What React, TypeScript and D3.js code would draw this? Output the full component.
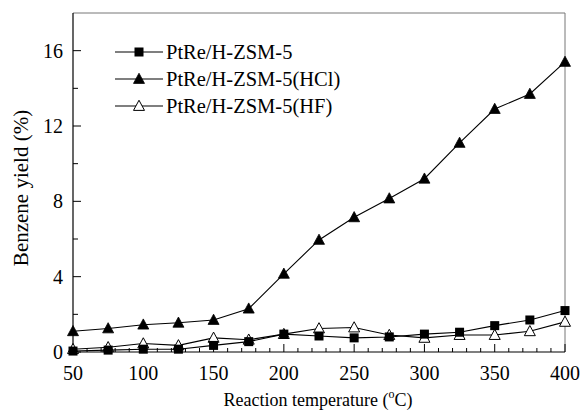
import React from "react";
import * as d3 from "d3";

const temps = [50, 75, 100, 125, 150, 175, 200, 225, 250, 275, 300, 325, 350, 375, 400];
const seriesBase = [0.05, 0.1, 0.15, 0.15, 0.35, 0.55, 0.95, 0.85, 0.75, 0.8, 0.95, 1.05, 1.4, 1.7, 2.2];
const seriesHCl = [1.1, 1.25, 1.45, 1.55, 1.7, 2.3, 4.15, 5.95, 7.15, 8.15, 9.2, 11.1, 12.9, 13.7, 15.4];
const seriesHF = [0.15, 0.25, 0.45, 0.35, 0.75, 0.65, 0.95, 1.25, 1.3, 0.9, 0.75, 0.9, 0.9, 1.1, 1.6];
const seriesNames = ["PtRe/H-ZSM-5", "PtRe/H-ZSM-5(HCl)", "PtRe/H-ZSM-5(HF)"];
const xTicks = [50, 100, 150, 200, 250, 300, 350, 400];
const yTicks = [0, 4, 8, 12, 16];
const yMinor = [2, 6, 10, 14];

const W = 583, H = 415;
const L = 73, R = 565, T = 13, B = 352;
const FONT = "Liberation Serif, Times New Roman, serif";

function Marker({ kind, x, y }: { kind: string; x: number; y: number }) {
  if (kind === "square") {
    return <rect x={x - 4.5} y={y - 4.5} width={9} height={9} fill="#000" />;
  }
  const s = 5.5;
  const pts = `${x},${y - s * 1.05} ${x + s},${y + s * 0.8} ${x - s},${y + s * 0.8}`;
  if (kind === "tri") return <polygon points={pts} fill="#000" stroke="#000" strokeWidth={0.8} />;
  return <polygon points={pts} fill="#fff" stroke="#000" strokeWidth={1} />;
}

export default function App() {
  const x = d3.scaleLinear().domain([50, 400]).range([L, R]);
  const y = d3.scaleLinear().domain([0, 18]).range([B, T]);
  const line = d3.line<number>().x((_, i) => x(temps[i])).y((d) => y(d));
  const series = [
    { name: seriesNames[0], data: seriesBase, kind: "square" },
    { name: seriesNames[1], data: seriesHCl, kind: "tri" },
    { name: seriesNames[2], data: seriesHF, kind: "open" },
  ];
  const xMinor = d3.range(60, 400, 10).filter((v) => v % 50 !== 0);
  const drawOrder = [2, 0, 1];

  return (
    <svg width={W} height={H} style={{ position: "absolute", left: 0, top: 0, background: "#fff", fontFamily: FONT }}>
      <rect x={0} y={0} width={W} height={H} fill="#fff" />
      <line x1={L} y1={T} x2={R} y2={T} stroke="#777" strokeWidth={1} />
      <line x1={R} y1={T} x2={R} y2={B} stroke="#777" strokeWidth={1} />
      <line x1={L} y1={T} x2={L} y2={B} stroke="#000" strokeWidth={1.2} />
      <line x1={L} y1={B} x2={R} y2={B} stroke="#000" strokeWidth={1.2} />
      {xTicks.map((t) => (
        <g key={"xt" + t}>
          <line x1={x(t)} x2={x(t)} y1={B} y2={B - 8} stroke="#000" />
          <text x={x(t)} y={B + 28} textAnchor="middle" fontSize={20}>{t}</text>
        </g>
      ))}
      {xMinor.map((t) => (
        <line key={"xm" + t} x1={x(t)} x2={x(t)} y1={B} y2={B - 4} stroke="#000" />
      ))}
      {yTicks.map((t) => (
        <g key={"yt" + t}>
          <line x1={L} x2={L + 8} y1={y(t)} y2={y(t)} stroke="#000" />
          <text x={L - 10} y={y(t) + 7} textAnchor="end" fontSize={20}>{t}</text>
        </g>
      ))}
      {yMinor.map((t) => (
        <line key={"ym" + t} x1={L} x2={L + 5} y1={y(t)} y2={y(t)} stroke="#000" />
      ))}
      {drawOrder.map((si) => {
        const s = series[si];
        return (
          <g key={s.name}>
            <path d={line(s.data) || ""} fill="none" stroke="#000" strokeWidth={1.1} />
            {s.data.map((v, i) => (
              <Marker key={i} kind={s.kind} x={x(temps[i])} y={y(v)} />
            ))}
          </g>
        );
      })}
      {series.map((s, i) => {
        const ly = 52 + i * 27;
        return (
          <g key={"lg" + i}>
            <line x1={115} x2={163} y1={ly} y2={ly} stroke="#000" strokeWidth={1.1} />
            <Marker kind={s.kind} x={139} y={ly} />
            <text x={166} y={ly + 7} fontSize={20.5}>{s.name}</text>
          </g>
        );
      })}
      <text x={318} y={406} textAnchor="middle" fontSize={18}>
        Reaction temperature (<tspan fontSize={12} dy={-8}>o</tspan><tspan dy={8}>C)</tspan>
      </text>
      <text transform={`translate(28, 188) rotate(-90)`} textAnchor="middle" fontSize={21}>
        Benzene yield (%)
      </text>
    </svg>
  );
}
